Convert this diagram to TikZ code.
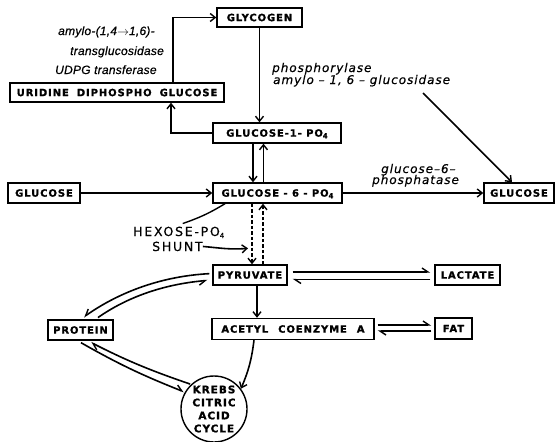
\documentclass[tikz,border=0pt]{standalone}
\usepackage{fontspec}
\setmainfont{DejaVu Sans}
\newfontfamily\boxfont[LetterSpace=9,FakeBold=1.2]{DejaVu Sans Bold}
\newfontfamily\rlabfont[LetterSpace=8,FakeBold=0.4]{DejaVu Sans Oblique}
\newfontfamily\llabfont[LetterSpace=2,FakeBold=0.6]{Liberation Sans Italic}
\newfontfamily\shuntfont[LetterSpace=14,FakeBold=0.4]{DejaVu Sans}
\usetikzlibrary{arrows.meta,calc}
\newcommand\subfour{\raisebox{-0.3ex}{\fontsize{7}{7}\selectfont 4}}
\begin{document}
\begin{tikzpicture}[x=1pt,y=1pt,
  box/.style={draw, line width=1.4pt, inner sep=0pt, minimum height=20pt,
    font=\boxfont\fontsize{10}{12}\selectfont, text height=7.3pt, text depth=0pt},
  arr/.style={line width=1.6pt, -{Straight Barb[length=5pt,width=8pt,line width=1.4pt]}},
  harp/.style={line width=1.6pt, -{Straight Barb[harpoon,length=6pt,width=8pt,line width=1.4pt]}},
  harps/.style={line width=1.6pt, -{Straight Barb[harpoon,swap,length=6pt,width=8pt,line width=1.4pt]}},
  dsh/.style={dash pattern=on 3.5pt off 2pt},
  plain/.style={line width=1.4pt},
  llab/.style={font=\llabfont\fontsize{12}{13}\selectfont, inner sep=0pt, anchor=base west},
  rlab/.style={font=\rlabfont\fontsize{12}{13}\selectfont, inner sep=0pt, anchor=base west},
  slab/.style={font=\shuntfont\fontsize{12.5}{13}\selectfont, inner sep=0pt, anchor=base west}
]
\fill[white] (0,0) rectangle (555,-442);
\useasboundingbox (0,0) rectangle (555,-442);

% nodes
\node[box, minimum width=85pt, minimum height=19pt] (glycogen) at (259.5,-17.5) {GLYCOGEN};
\node[box, minimum width=214pt, minimum height=19pt] (udpg) at (117,-92.5) {URIDINE\hspace{8pt}DIPHOSPHO\hspace{8pt}GLUCOSE};
\node[box, minimum width=128pt] (g1p) at (277,-133) {GLUCOSE-1- PO\subfour};
\node[box, minimum width=72pt] (glcL) at (44,-193) {GLUCOSE};
\node[box, minimum width=129pt] (g6p) at (277.5,-193) {GLUCOSE - 6 - PO\subfour};
\node[box, minimum width=70pt] (glcR) at (519,-193) {GLUCOSE};
\node[box, minimum width=74pt] (pyr) at (250,-275) {PYRUVATE};
\node[box, minimum width=65pt] (lac) at (467.5,-275) {LACTATE};
\node[box, minimum width=65pt] (prot) at (80.5,-330) {PROTEIN};
\node[box, minimum width=162pt, minimum height=21pt] (acetyl) at (293,-329) {ACETYL\hspace{10pt}COENZYME\hspace{10pt}A};
\node[box, minimum width=37pt, minimum height=21pt] (fat) at (453.5,-328.5) {FAT};
\node[circle, draw, line width=1.4pt, minimum size=66pt, inner sep=0pt, align=center,
  font=\boxfont\fontsize{10.5}{13}\selectfont] (krebs) at (214,-409) {KREBS\\CITRIC\\ACID\\CYCLE};

% enzyme labels
\node[llab] (enzA) at (58,-35) {amylo-(1,4$\rightarrow$1,6)-};
\node[llab] (enzB) at (70,-55) {transglucosidase};
\node[llab] (enzC) at (55,-74) {UDPG transferase};
\node[rlab] (enzD) at (272,-72) {phosphorylase};
\node[rlab] (enzE) at (273,-84) {amylo\ –\ 1,\ 6\ –\ glucosidase};
\node[rlab] (enzF) at (381,-173) {glucose–6–};
\node[rlab] (enzG) at (372,-184) {phosphatase};
\node[slab] (hexl) at (133,-236) {HEXOSE-PO\subfour};
\node[slab] (shunt) at (152,-251) {SHUNT};
\coordinate (enzEnd) at (423,-93);

% connectors
\draw[arr] ([xshift=56pt]udpg.north) |- (glycogen.west);
\draw[arr] (glycogen.south) -- (glycogen.south |- g1p.north);
\draw[arr] (g1p.west) -| ([xshift=54pt]udpg.south);
\draw[arr] ([xshift=-24pt]g1p.south) -- ([xshift=-24pt]g1p.south |- g6p.north);
\draw[arr] ([xshift=-14pt]g6p.north) -- ([xshift=-14pt]g6p.north |- g1p.south);
\draw[arr] (glcL) -- (g6p);
\draw[arr] (g6p) -- (glcR);
\draw[arr] (enzEnd) -- ([xshift=-7pt]glcR.north);
\draw[arr, dsh] ([xshift=-25.5pt]g6p.south) -- ([xshift=-25.5pt]g6p.south |- pyr.north);
\draw[arr, dsh] ([xshift=13pt]pyr.north) -- ([xshift=13pt]pyr.north |- g6p.south);
\draw[plain] ([xshift=-52.5pt]g6p.south) to[bend left=6] ([xshift=4pt,yshift=3pt]hexl.north);
\draw[arr] (shunt.east) to[out=-5,in=185] ([xshift=-2pt,yshift=16pt]pyr.north);
\draw[arr] ([xshift=7pt]pyr.south) -- ([xshift=7pt]pyr.south |- acetyl.north);
\draw[harp, shorten <=5pt, shorten >=4pt] ([yshift=3pt]pyr.east) -- ([yshift=3pt]pyr.east -| lac.west);
\draw[harp, shorten <=4pt, shorten >=5pt] ([yshift=-4.5pt]pyr.east -| lac.west) -- ([yshift=-4.5pt]pyr.east);
\draw[harp, shorten <=3pt, shorten >=3pt] ([yshift=4pt]acetyl.east) -- ([yshift=4pt]acetyl.east -| fat.west);
\draw[harp, shorten <=3pt, shorten >=3pt] ([yshift=-2pt]acetyl.east -| fat.west) -- ([yshift=-2pt]acetyl.east);
\draw[arr] ([xshift=-39pt]acetyl.south) to[bend left=8] (krebs.37);
\draw[harps, shorten <=3pt, shorten >=4pt] ([yshift=1.5pt]pyr.west) to[out=183,in=35,looseness=0.9] (prot.north);
\draw[harps, shorten <=3pt, shorten >=5pt] ([xshift=15pt]prot.north) to[out=35,in=185,looseness=0.9] ([yshift=-5pt]pyr.west);
\draw[harp, shorten <=1pt, shorten >=4pt] (krebs.133) to[bend left=4] ([xshift=7pt]prot.south);
\draw[harp, shorten <=4pt, shorten >=1pt] ([xshift=-3pt]prot.south) to[bend right=4] (krebs.150);
\end{tikzpicture}
\end{document}
